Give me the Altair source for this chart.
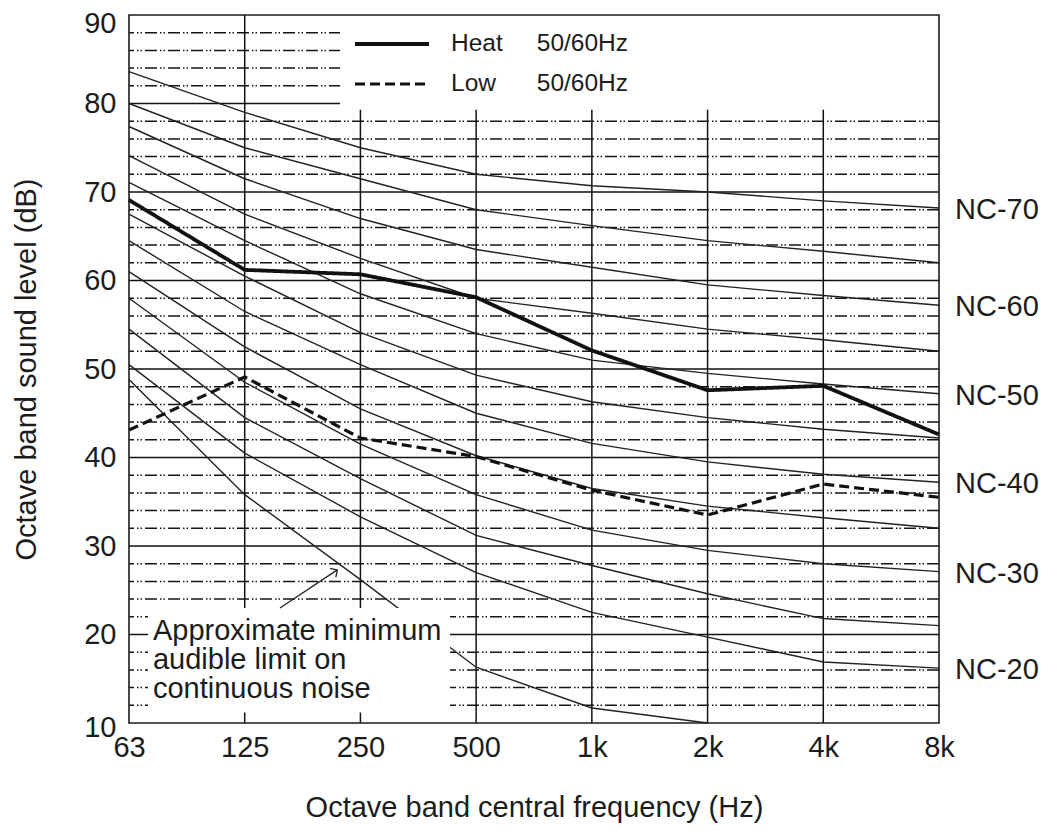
import json
import altair as alt
import pandas as pd

# ---------------- data ----------------
bands = ["63", "125", "250", "500", "1k", "2k", "4k", "8k"]

nc_names = ["NC-20", "NC-25", "NC-30", "NC-35", "NC-40", "NC-45",
            "NC-50", "NC-55", "NC-60", "NC-65", "NC-70"]
nc20 = [50.5, 40.5, 33.3, 27.0, 22.5, 19.7, 16.9, 16.2]
nc25 = [54.5, 44.5, 37.6, 31.2, 27.8, 24.6, 21.8, 21.0]
nc30 = [58.0, 48.5, 41.5, 35.8, 31.8, 29.5, 28.0, 27.1]
nc35 = [61.0, 52.5, 45.5, 40.2, 36.5, 34.5, 33.2, 32.0]
nc40 = [64.5, 56.5, 50.5, 45.0, 41.6, 39.5, 38.1, 37.2]
nc45 = [67.5, 60.5, 54.1, 49.3, 46.3, 44.5, 43.2, 42.2]
nc50 = [71.1, 64.5, 58.5, 54.0, 51.0, 49.5, 48.3, 47.2]
nc55 = [74.1, 67.5, 62.5, 58.0, 56.3, 54.5, 53.3, 52.0]
nc60 = [77.4, 71.5, 67.0, 63.5, 61.5, 59.5, 58.3, 57.2]
nc65 = [80.0, 75.0, 71.5, 68.0, 66.2, 64.5, 63.3, 62.0]
nc70 = [83.6, 79.0, 75.0, 72.0, 70.7, 70.0, 69.0, 68.2]
nc_curves = [nc20, nc25, nc30, nc35, nc40, nc45, nc50, nc55, nc60, nc65, nc70]
labeled_nc = ["NC-20", "NC-30", "NC-40", "NC-50", "NC-60", "NC-70"]

audible = [48.8, 35.8, 26.2, 16.3, 11.7, 10.0]   # 63 Hz .. 2 kHz

series_names = ["Heat", "Low"]
series_note = "50/60Hz"
heat = [69.1, 61.2, 60.7, 58.1, 52.1, 47.6, 48.1, 42.6]
low = [43.1, 49.1, 42.2, 40.1, 36.3, 33.5, 37.0, 35.5]

y_ticks = [10, 20, 30, 40, 50, 60, 70, 80, 90]
grid_major = [20, 30, 40, 50, 60, 70, 80]
grid_minor = [12, 14, 16, 18, 22, 24, 26, 28, 32, 34, 36, 38, 42, 44, 46, 48,
              52, 54, 56, 58, 62, 64, 66, 68, 72, 74, 76, 78, 82, 84, 86, 88]
grid_vertical = [1, 2, 3, 4, 5, 6]

annotation_lines = ["Approximate minimum", "audible limit on", "continuous noise"]

# ---------------- layout constants ----------------
FONT = "Liberation Sans, Arial, Helvetica, sans-serif"
INK = "#1c1c1c"
FS = 29
W, H = 810, 708
legend_box = dict(x=1.824, x2=7.0, y=79.3, y2=90.0)
note_box = dict(x=0.164, x2=2.774, y=11.2, y2=23.0)
note_pos = dict(x=0.207, y=19.4)
arrow = dict(x=1.305, y=23.0, x2=1.80, y2=27.3)
pad = {"Heat": 5, "Low": 6}

# ---------------- tables ----------------
nc_rows = []
for name, vals in zip(nc_names, nc_curves):
    for i, v in enumerate(vals):
        nc_rows.append({"curve": name, "x": i, "y": v})
nc_df = pd.DataFrame(nc_rows)
aud_df = pd.DataFrame({"x": list(range(len(audible))), "y": audible})

ser_label = {n: n + "\u00a0" * pad[n] + series_note for n in series_names}
ser_rows = []
for n, vals in zip(series_names, [heat, low]):
    for i, v in enumerate(vals):
        ser_rows.append({"s": ser_label[n], "x": i, "y": v})
ser_df = pd.DataFrame(ser_rows)

lab_df = pd.DataFrame({
    "t": labeled_nc,
    "x": [len(bands) - 1] * len(labeled_nc),
    "y": [nc_curves[nc_names.index(n)][-1] for n in labeled_nc],
})

label_expr = json.dumps(bands) + "[datum.value]"

xscale = alt.Scale(domain=[0, len(bands) - 1], nice=False, zero=False)
yscale = alt.Scale(domain=[10, 90], nice=False, zero=False)
xaxis = alt.Axis(values=list(range(len(bands))), labelExpr=label_expr, grid=False,
                 domain=False, ticks=False, labelPadding=10, labelFontSize=FS,
                 labelFlush=False,
                 title="Octave band central frequency (Hz)", titlePadding=31,
                 titleFontSize=FS)
yaxis = alt.Axis(values=y_ticks, grid=False, domain=False, ticks=False,
                 labelPadding=13, labelFontSize=FS, labelFlush=False,
                 labelOffset={"condition": [{"test": "datum.value == 90", "value": 8},
                                            {"test": "datum.value == 10", "value": 4}],
                              "value": 0},
                 title="Octave band sound level (dB)", titlePadding=42,
                 titleFontSize=FS)


def X(f):
    return alt.X(f"{f}:Q", scale=xscale, axis=xaxis)


def Y(f):
    return alt.Y(f"{f}:Q", scale=yscale, axis=yaxis)


# gridlines
gmaj = alt.Chart(pd.DataFrame({"y": grid_major})).mark_rule(
    color="#111111", strokeWidth=1.5).encode(y=Y("y"))
gmin = alt.Chart(pd.DataFrame({"y": grid_minor})).mark_rule(
    color="#151515", strokeWidth=1.5, strokeDash=[12, 3, 1.5, 2, 1.5, 3]).encode(y=Y("y"))
gver = alt.Chart(pd.DataFrame({"x": grid_vertical})).mark_rule(
    color="#111111", strokeWidth=1.5).encode(x=X("x"))

nc_lines = alt.Chart(nc_df).mark_line(color="#222222", strokeWidth=1.4).encode(
    x=X("x"), y=Y("y"), detail="curve:N")
aud_line = alt.Chart(aud_df).mark_line(color="#222222", strokeWidth=1.4).encode(
    x=X("x"), y=Y("y"))

boxes = alt.Chart(pd.DataFrame([legend_box, note_box])).mark_rect(
    color="white").encode(x=X("x"), x2="x2", y=Y("y"), y2="y2")

series = alt.Chart(ser_df).mark_line(color="#111111").encode(
    x=X("x"), y=Y("y"),
    strokeDash=alt.StrokeDash(
        "s:N",
        scale=alt.Scale(domain=[ser_label[n] for n in series_names],
                        range=[[1, 0], [10, 5]]),
        legend=alt.Legend(
            title=None, orient="none", legendX=224, legendY=16,
            symbolType="stroke", symbolSize=5476, symbolStrokeWidth=4,
            symbolStrokeColor="#111111", clipHeight=26, rowPadding=14,
            labelFontSize=24.5, labelFont=FONT, labelColor=INK, labelOffset=20,
            labelLimit=400, padding=0)),
    strokeWidth=alt.StrokeWidth(
        "s:N",
        scale=alt.Scale(domain=[ser_label[n] for n in series_names],
                        range=[3.8, 3.2]),
        legend=None),
)

nc_text = alt.Chart(lab_df).mark_text(
    align="left", baseline="middle", dx=16, dy=2, fontSize=FS, font=FONT,
    color=INK).encode(x=X("x"), y=Y("y"), text="t:N")

note = alt.Chart(pd.DataFrame([{**note_pos, "t": "\n".join(annotation_lines)}])).mark_text(
    align="left", baseline="alphabetic", fontSize=FS, font=FONT, color=INK,
    lineBreak="\n", lineHeight=29).encode(x=X("x"), y=Y("y"), text="t:N")

arrow_df = pd.DataFrame([arrow])
arrow_line = alt.Chart(arrow_df).mark_rule(color="#222222", strokeWidth=1.3).encode(
    x=X("x"), y=Y("y"), x2="x2", y2="y2")
arrow_head = alt.Chart(arrow_df).mark_point(
    shape="M -1 1 L 0 0 L 1 1", filled=False, size=110, angle=56,
    color="#222222", strokeWidth=1.3, opacity=1).encode(x=X("x2"), y=Y("y2"))

frame = alt.Chart(pd.DataFrame([{"x": 0, "x2": len(bands) - 1, "y": 10, "y2": 90}])).mark_rect(
    fill=None, fillOpacity=0, stroke=INK, strokeWidth=1.6).encode(
    x=X("x"), x2="x2", y=Y("y"), y2="y2")

chart = alt.layer(
    gmin, gmaj, gver, nc_lines, aud_line, boxes, series, nc_text, note,
    arrow_line, arrow_head, frame
).properties(
    width=W, height=H,
    autosize=alt.AutoSizeParams(type="none"),
    padding={"left": 121, "top": 7, "right": 105, "bottom": 100},
    background="white",
).configure_view(
    strokeWidth=0
).configure_axis(
    labelFont=FONT, titleFont=FONT, labelColor=INK, titleColor=INK,
    titleFontWeight="normal"
)

chart.save("out.html", embed_options={"renderer": "svg", "actions": False})
